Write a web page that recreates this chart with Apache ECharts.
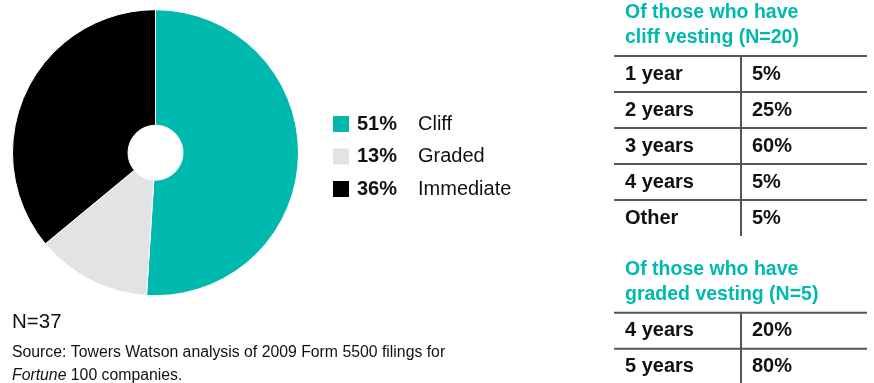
<!DOCTYPE html>
<html>
<head>
<meta charset="utf-8">
<script src="https://cdn.jsdelivr.net/npm/echarts@6/dist/echarts.min.js"></script>
<style>
  html, body { margin: 0; padding: 0; background: #fff; }
  #chart { width: 874px; height: 383px; }
</style>
</head>
<body>
<div id="chart"></div>
<script>
// Vesting type split among plans
const vestingTypes = ['Cliff', 'Graded', 'Immediate'];
const vestingShares = [51, 13, 36];
const sampleNote = 'N=37';

// Cliff vesting breakdown
const cliffTitle = ['Of those who have', 'cliff vesting (N=20)'];
const cliffPeriods = ['1 year', '2 years', '3 years', '4 years', 'Other'];
const cliffShares = ['5%', '25%', '60%', '5%', '5%'];

// Graded vesting breakdown
const gradedTitle = ['Of those who have', 'graded vesting (N=5)'];
const gradedPeriods = ['4 years', '5 years'];
const gradedShares = ['20%', '80%'];

const sourceLines = ['Source: Towers Watson analysis of 2009 Form 5500 filings for', '{i|Fortune} 100 companies.'];

const TEAL = '#00b9ae';
const sliceColors = [TEAL, '#e2e3e5', '#000000'];
const FONT = '"Liberation Sans", Arial, sans-serif';

const chart = echarts.init(document.getElementById('chart'), null, { renderer: 'canvas' });

// Build a small two-column table as graphic elements
function tableGraphics(title, periods, shares, topY) {
  const els = [];
  const left = 614, right = 867, sep = 741, rowH = 36;
  title.forEach((t, i) => {
    els.push({
      type: 'text', x: 625, y: topY - 43.3 + i * 25.4,
      style: { text: t, fill: TEAL, font: 'bold 19.5px ' + FONT, textVerticalAlign: 'middle' }
    });
  });
  periods.forEach((p, i) => {
    const y = topY + i * rowH;
    els.push({
      type: 'line', shape: { x1: left, y1: y, x2: right, y2: y },
      style: { stroke: '#555555', lineWidth: 2 }
    });
    els.push({
      type: 'text', x: 625, y: y + rowH / 2,
      style: { text: p, fill: '#111', font: 'bold 20px ' + FONT, textVerticalAlign: 'middle' }
    });
    els.push({
      type: 'text', x: 752, y: y + rowH / 2,
      style: { text: shares[i], fill: '#111', font: 'bold 20px ' + FONT, textVerticalAlign: 'middle' }
    });
  });
  els.push({
    type: 'line', shape: { x1: sep, y1: topY, x2: sep, y2: topY + periods.length * rowH },
    style: { stroke: '#555555', lineWidth: 2 }
  });
  return els;
}

const graphics = [].concat(
  tableGraphics(cliffTitle, cliffPeriods, cliffShares, 56),
  tableGraphics(gradedTitle, gradedPeriods, gradedShares, 312.7),
  [
    {
      type: 'text', x: 12, y: 322,
      style: { text: sampleNote, fill: '#111', font: '20.5px ' + FONT, textVerticalAlign: 'middle' }
    },
    {
      type: 'text', x: 12, y: 353,
      style: { text: sourceLines[0], fill: '#111', font: '15.8px ' + FONT, textVerticalAlign: 'middle' }
    },
    {
      type: 'text', x: 12, y: 376,
      style: {
        text: sourceLines[1], fill: '#111', font: '15.8px ' + FONT, textVerticalAlign: 'middle',
        rich: { i: { fontStyle: 'italic', fontSize: 15.8, fontFamily: FONT, fill: '#111' } }
      }
    }
  ]
);

const pieData = vestingTypes.map((name, i) => ({
  name: name,
  value: vestingShares[i],
  itemStyle: { color: sliceColors[i] }
}));

chart.setOption({
  animation: false,
  legend: {
    orient: 'vertical',
    left: 333,
    top: 114,
    padding: 0,
    itemWidth: 16,
    itemHeight: 16,
    itemGap: 12.5,
    icon: 'rect',
    selectedMode: false,
    data: vestingTypes,
    itemStyle: { borderWidth: 0 },
    formatter: function (name) {
      const i = vestingTypes.indexOf(name);
      return '{p|' + vestingShares[i] + '%}{n|' + name + '}';
    },
    textStyle: {
      padding: [0, 0, 0, 3],
      rich: {
        p: { fontFamily: FONT, fontWeight: 'bold', fontSize: 20, color: '#111', width: 61, lineHeight: 20 },
        n: { fontFamily: FONT, fontSize: 20, color: '#111', lineHeight: 20 }
      }
    }
  },
  series: [{
    type: 'pie',
    center: [155.5, 152.7],
    radius: [27.5, 143],
    startAngle: 90,
    clockwise: true,
    silent: true,
    label: { show: false },
    labelLine: { show: false },
    itemStyle: { borderColor: '#ffffff', borderWidth: 1 },
    data: pieData
  }],
  graphic: graphics
});
</script>
</body>
</html>
